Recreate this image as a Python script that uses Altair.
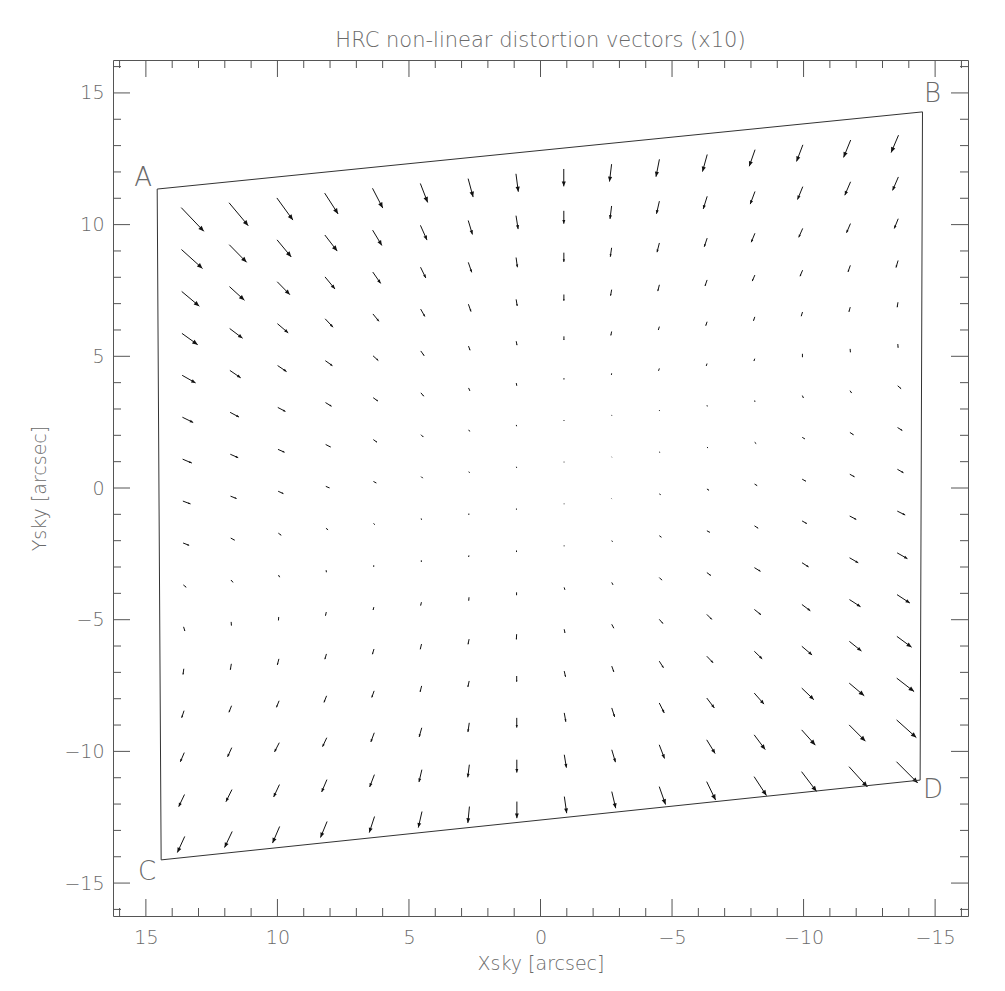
import math
import altair as alt
import pandas as pd

TITLE = "HRC non-linear distortion vectors (x10)"
X_TITLE = "Xsky [arcsec]"
Y_TITLE = "Ysky [arcsec]"

# Detector outline corners (sky arcsec)
CORNER_NAMES = ["A", "B", "C", "D"]
CORNER_X = [14.57, -14.52, 14.42, -14.43]
CORNER_Y = [11.35, 14.28, -14.12, -11.09]

# 16 x 16 detector grid (cell centres); rows run from the A-B edge to the C-D edge
GRID_COLS = list(range(16))
GRID_ROWS = list(range(16))

# Distortion vectors x10, in sky arcsec (row by row)
DX = [
    [-0.86, -0.73, -0.61, -0.51, -0.39, -0.28, -0.19, -0.09, 0.00, 0.08, 0.13, 0.18, 0.22, 0.24, 0.27, 0.28],
    [-0.80, -0.66, -0.54, -0.47, -0.35, -0.25, -0.16, -0.08, 0.00, 0.06, 0.11, 0.15, 0.18, 0.20, 0.22, 0.22],
    [-0.67, -0.57, -0.48, -0.38, -0.30, -0.20, -0.13, -0.05, 0.00, 0.05, 0.09, 0.11, 0.14, 0.15, 0.15, 0.15],
    [-0.60, -0.49, -0.41, -0.30, -0.23, -0.16, -0.10, -0.04, 0.00, 0.04, 0.06, 0.08, 0.10, 0.10, 0.09, 0.08],
    [-0.51, -0.41, -0.34, -0.27, -0.20, -0.13, -0.06, -0.03, 0.00, 0.03, 0.04, 0.05, 0.05, 0.05, 0.05, 0.03],
    [-0.41, -0.34, -0.29, -0.23, -0.18, -0.11, -0.05, -0.02, 0.00, 0.01, 0.03, 0.03, 0.03, 0.00, -0.01, -0.01],
    [-0.35, -0.30, -0.25, -0.19, -0.14, -0.09, -0.04, -0.01, 0.00, -0.01, -0.01, -0.01, -0.01, -0.04, -0.06, -0.13],
    [-0.29, -0.23, -0.20, -0.14, -0.11, -0.06, -0.03, -0.01, 0.00, -0.01, -0.03, -0.04, -0.06, -0.10, -0.14, -0.18],
    [-0.23, -0.15, -0.11, -0.08, -0.04, -0.01, 0.00, 0.00, 0.00, -0.01, -0.05, -0.08, -0.10, -0.14, -0.18, -0.23],
    [-0.11, -0.08, -0.04, -0.01, 0.00, 0.00, 0.01, 0.00, 0.00, -0.03, -0.08, -0.11, -0.14, -0.18, -0.25, -0.30],
    [-0.05, -0.01, 0.01, 0.03, 0.03, 0.03, 0.01, 0.00, -0.03, -0.05, -0.10, -0.15, -0.23, -0.25, -0.33, -0.39],
    [0.03, 0.04, 0.06, 0.06, 0.06, 0.05, 0.04, 0.01, -0.03, -0.08, -0.14, -0.19, -0.25, -0.32, -0.42, -0.49],
    [0.09, 0.10, 0.10, 0.10, 0.09, 0.06, 0.05, 0.00, -0.05, -0.08, -0.16, -0.24, -0.30, -0.39, -0.46, -0.56],
    [0.15, 0.16, 0.18, 0.16, 0.13, 0.10, 0.05, 0.00, -0.06, -0.11, -0.19, -0.29, -0.37, -0.46, -0.57, -0.66],
    [0.22, 0.23, 0.22, 0.20, 0.18, 0.11, 0.06, 0.00, -0.08, -0.14, -0.20, -0.32, -0.42, -0.52, -0.62, -0.75],
    [0.28, 0.29, 0.27, 0.25, 0.20, 0.14, 0.06, 0.00, -0.09, -0.15, -0.24, -0.34, -0.47, -0.57, -0.70, -0.81],
]
DY = [
    [-0.90, -0.87, -0.84, -0.79, -0.75, -0.72, -0.70, -0.68, -0.66, -0.66, -0.66, -0.65, -0.63, -0.63, -0.66, -0.66],
    [-0.72, -0.67, -0.65, -0.61, -0.58, -0.56, -0.53, -0.51, -0.49, -0.49, -0.48, -0.48, -0.48, -0.49, -0.51, -0.51],
    [-0.56, -0.52, -0.49, -0.46, -0.43, -0.41, -0.38, -0.37, -0.35, -0.34, -0.35, -0.33, -0.34, -0.34, -0.35, -0.37],
    [-0.43, -0.37, -0.35, -0.32, -0.28, -0.28, -0.28, -0.25, -0.24, -0.23, -0.24, -0.23, -0.23, -0.23, -0.25, -0.27],
    [-0.29, -0.28, -0.23, -0.19, -0.18, -0.18, -0.16, -0.15, -0.14, -0.15, -0.13, -0.15, -0.15, -0.16, -0.18, -0.19],
    [-0.20, -0.18, -0.15, -0.14, -0.13, -0.13, -0.11, -0.10, -0.05, -0.06, -0.09, -0.09, -0.09, -0.13, -0.13, -0.14],
    [-0.15, -0.13, -0.11, -0.10, -0.10, -0.09, -0.06, -0.05, -0.03, -0.02, -0.03, -0.04, -0.05, -0.09, -0.09, -0.11],
    [-0.11, -0.09, -0.09, -0.06, -0.06, -0.06, -0.04, -0.04, -0.02, -0.01, -0.01, -0.03, -0.05, -0.06, -0.09, -0.11],
    [-0.09, -0.08, -0.08, -0.06, -0.05, -0.05, -0.05, -0.04, -0.02, -0.01, -0.03, -0.05, -0.06, -0.08, -0.10, -0.13],
    [-0.09, -0.09, -0.08, -0.08, -0.06, -0.06, -0.06, -0.06, -0.03, -0.04, -0.06, -0.06, -0.09, -0.10, -0.13, -0.15],
    [-0.16, -0.14, -0.13, -0.14, -0.11, -0.13, -0.13, -0.11, -0.09, -0.09, -0.10, -0.11, -0.14, -0.16, -0.19, -0.22],
    [-0.22, -0.23, -0.23, -0.20, -0.20, -0.20, -0.20, -0.20, -0.14, -0.15, -0.16, -0.19, -0.20, -0.24, -0.27, -0.32],
    [-0.27, -0.25, -0.25, -0.25, -0.25, -0.23, -0.23, -0.22, -0.22, -0.22, -0.25, -0.25, -0.29, -0.33, -0.37, -0.41],
    [-0.35, -0.35, -0.35, -0.34, -0.35, -0.35, -0.35, -0.37, -0.34, -0.34, -0.38, -0.38, -0.42, -0.44, -0.48, -0.51],
    [-0.46, -0.46, -0.47, -0.47, -0.47, -0.47, -0.48, -0.49, -0.49, -0.47, -0.52, -0.52, -0.56, -0.58, -0.62, -0.67],
    [-0.61, -0.61, -0.63, -0.61, -0.61, -0.61, -0.62, -0.63, -0.63, -0.63, -0.68, -0.70, -0.72, -0.75, -0.77, -0.81],
]

MAJOR_TICKS = [-15, -10, -5, 0, 5, 10, 15]
MINOR_TICKS = [v for v in range(-16, 17) if v % 5 != 0]

# ---------------- layout / style ----------------
W, H = 855, 856
DOM = [16.25, -16.25]
YDOM = [-16.25, 16.25]
FONT = "DejaVu Sans"
FW = 200
TXT = "#6a6a6a"
AX = "#555555"
MAJ_LEN, MIN_LEN = 17, 8

xs = alt.Scale(domain=DOM, nice=False, zero=False)
ys = alt.Scale(domain=YDOM, nice=False, zero=False)
kx = W / abs(DOM[1] - DOM[0])
ky = H / abs(YDOM[1] - YDOM[0])

A = (CORNER_X[0], CORNER_Y[0])
B = (CORNER_X[1], CORNER_Y[1])
C = (CORNER_X[2], CORNER_Y[2])
D = (CORNER_X[3], CORNER_Y[3])


def det_to_sky(u, v):
    # bilinear map of the detector unit square onto the outline A-B-C-D
    x = (1 - u) * (1 - v) * A[0] + u * (1 - v) * B[0] + (1 - u) * v * C[0] + u * v * D[0]
    y = (1 - u) * (1 - v) * A[1] + u * (1 - v) * B[1] + (1 - u) * v * C[1] + u * v * D[1]
    return x, y


rows = []
for r in GRID_ROWS:
    for c in GRID_COLS:
        x0, y0 = det_to_sky((c + 0.5) / len(GRID_COLS), (r + 0.5) / len(GRID_ROWS))
        dx, dy = DX[r][c], DY[r][c]
        pdx, pdy = -dx * kx, -dy * ky  # screen direction (x axis reversed)
        L = math.hypot(pdx, pdy)
        ang = (math.degrees(math.atan2(pdx, -pdy)) + 360) % 360
        h = max(0.8, min(5.5, 0.28 * L))
        rows.append(dict(x=x0, y=y0, x2=x0 + dx, y2=y0 + dy, ang=ang, hs=4 * h * h))
vec = pd.DataFrame(rows)

xenc = alt.X("x:Q", scale=xs, axis=alt.Axis(
    title=X_TITLE, values=MAJOR_TICKS, format="d", ticks=False, domain=False, grid=False,
    labelFont=FONT, labelFontWeight=FW, labelFontSize=19, labelColor=TXT, labelPadding=12,
    titleFont=FONT, titleFontWeight=FW, titleFontSize=19, titleColor=TXT, titlePadding=7))
yenc = alt.Y("y:Q", scale=ys, axis=alt.Axis(
    title=Y_TITLE, values=MAJOR_TICKS, format="d", ticks=False, domain=False, grid=False,
    labelFont=FONT, labelFontWeight=FW, labelFontSize=19, labelColor=TXT, labelPadding=9,
    titleFont=FONT, titleFontWeight=FW, titleFontSize=19, titleColor=TXT, titlePadding=14))

shafts = alt.Chart(vec).mark_rule(color="#111", strokeWidth=1).encode(
    x=xenc, y=yenc, x2="x2:Q", y2="y2:Q")

heads = alt.Chart(vec).mark_point(
    shape="M0,0L-0.42,1L0.42,1Z", filled=True, color="#111", opacity=1, strokeWidth=0.4
).encode(
    x=alt.X("x2:Q", scale=xs),
    y=alt.Y("y2:Q", scale=ys),
    angle=alt.Angle("ang:Q", scale=None),
    size=alt.Size("hs:Q", scale=None),
)

# detector outline A-B-D-C-A
outline_order = ["A", "B", "D", "C", "A"]
outline = pd.DataFrame({
    "x": [CORNER_X[CORNER_NAMES.index(n)] for n in outline_order],
    "y": [CORNER_Y[CORNER_NAMES.index(n)] for n in outline_order],
    "o": list(range(len(outline_order))),
})
poly = alt.Chart(outline).mark_line(color="#333", strokeWidth=1).encode(
    x=alt.X("x:Q", scale=xs), y=alt.Y("y:Q", scale=ys), order="o:Q")

label_offsets = {"A": (-14, -11), "B": (10, -18), "C": (-14, 12), "D": (13, 10)}
labels = []
for n, cx, cy in zip(CORNER_NAMES, CORNER_X, CORNER_Y):
    ox, oy = label_offsets[n]
    labels.append(
        alt.Chart(pd.DataFrame({"x": [cx], "y": [cy], "t": [n]})).mark_text(
            font=FONT, fontWeight=FW, fontSize=26, color=TXT, dx=ox, dy=oy,
            align="center", baseline="middle"
        ).encode(x=alt.X("x:Q", scale=xs), y=alt.Y("y:Q", scale=ys), text="t:N")
    )

# inward-pointing ticks on all four sides
tick_layers = []
for v_list, L in [(MAJOR_TICKS, MAJ_LEN), (MINOR_TICKS, MIN_LEN)]:
    td = pd.DataFrame({"v": v_list})
    base = alt.Chart(td).mark_rule(color=AX, strokeWidth=1)
    tick_layers += [
        base.encode(x=alt.X("v:Q", scale=xs), y=alt.value(H), y2=alt.value(H - L)),
        base.encode(x=alt.X("v:Q", scale=xs), y=alt.value(0), y2=alt.value(L)),
        base.encode(y=alt.Y("v:Q", scale=ys), x=alt.value(0), x2=alt.value(L)),
        base.encode(y=alt.Y("v:Q", scale=ys), x=alt.value(W), x2=alt.value(W - L)),
    ]

chart = alt.layer(shafts, heads, poly, *labels, *tick_layers).properties(
    width=W, height=H,
    title=alt.TitleParams(TITLE, font=FONT, fontWeight=FW, fontSize=21, color=TXT,
                          anchor="middle", offset=9),
    autosize=alt.AutoSizeParams(type="none"),
    padding={"left": 105, "top": 52, "right": 25, "bottom": 60},
).configure(background="white").configure_view(stroke=AX, strokeWidth=1)

chart.save("out.html", embed_options={"renderer": "svg", "actions": False})
